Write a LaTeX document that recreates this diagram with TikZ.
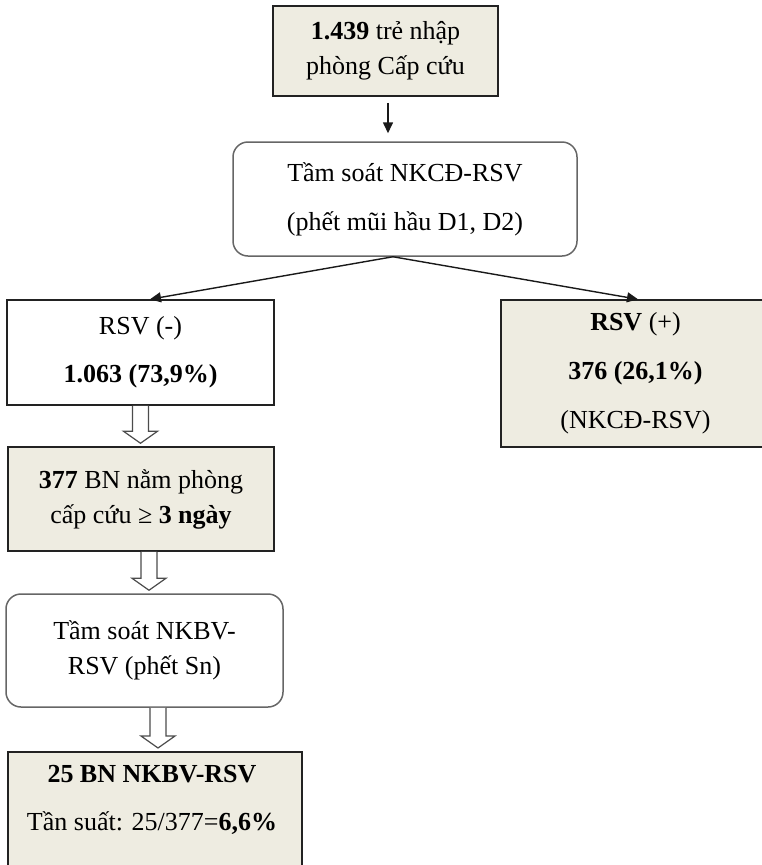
\documentclass[tikz,border=0pt]{standalone}
\usepackage{fontspec}
\setmainfont{Liberation Serif}
\usepackage{tikz}
\usetikzlibrary{arrows.meta, calc}
\definecolor{beige}{HTML}{EEECE1}
\definecolor{frame}{HTML}{222222}

% hollow block arrow from the bottom of #1 to the top of #2, at x = #3
\newcommand{\fatarrow}[3]{%
  \draw[fat] let \p1=(#1.south), \p2=(#2.north) in
    ({(#3-8)*1pt},\y1) -- ({(#3-8)*1pt},\y2+15pt) -- ({(#3-17)*1pt},\y2+15pt)
    -- ({#3*1pt},\y2+3pt) -- ({(#3+17)*1pt},\y2+15pt) -- ({(#3+8)*1pt},\y2+15pt)
    -- ({(#3+8)*1pt},\y1);}

\begin{document}
\begin{tikzpicture}[
  x=1pt, y=-1pt,
  every node/.style={font=\fontsize{26}{35}\selectfont, align=center, inner sep=0pt},
  box/.style={rectangle, draw=frame, line width=1.5pt, fill=beige},
  plainbox/.style={rectangle, draw=frame, line width=1.5pt, fill=white},
  roundbox/.style={rectangle, draw=black!60, line width=1.5pt, fill=white, rounded corners=15pt},
  arrow/.style={-{Triangle[length=11pt, width=10pt]}, line width=1.6pt, black!90},
  fat/.style={draw=black!70, line width=1.2pt, fill=white, line join=miter}
]
  \useasboundingbox (0,0) rectangle (762,865);

  \node[box, minimum width=225pt, minimum height=90pt] (admit) at (385.5,51)
    {\textbf{1.439} trẻ nhập\\phòng Cấp cứu};
  \node[roundbox, minimum width=344pt, minimum height=114pt] (screen) at (405,199)
    {Tầm soát NKCĐ-RSV\\[14pt](phết mũi hầu D1, D2)};

  \node[plainbox, minimum width=267pt, minimum height=105pt] (neg) at (140.5,352.5)
    {RSV (-)\\[13pt]\textbf{1.063 (73,9\%)}};
  \node[box, minimum width=269pt, minimum height=147pt] (pos) at (635.5,373.5)
    {\textbf{RSV} (+)\\[14pt]\textbf{376 (26,1\%)}\\[14pt](NKCĐ-RSV)};

  \node[box, minimum width=266pt, minimum height=104pt] (stay) at (141,499)
    {\textbf{377} BN nằm phòng\\cấp cứu ≥ \textbf{3 ngày}};
  \node[roundbox, minimum width=277pt, minimum height=113pt] (nkbv) at (144.5,650.5)
    {Tầm soát NKBV-\\RSV (phết Sn)};

  \node[box, minimum width=294pt, minimum height=130pt, anchor=north] (result) at (155,751) {};
  \node (resulttext) at (152,800)
    {\textbf{25 BN NKBV-RSV}\\[13pt]Tần suất: 25/377=\textbf{6,6\%}};

  \coordinate (split) at ([xshift=-12pt]screen.south);

  \draw[arrow, shorten <=6pt, shorten >=8pt] ([xshift=2.5pt]admit.south) -- ([xshift=2.5pt]admit.south |- screen.north);
  \draw[arrow, line width=1.4pt] (split) -- ([xshift=9.5pt]neg.north);
  \draw[arrow, line width=1.4pt] (split) -- ([xshift=2.5pt]pos.north);

  \fatarrow{neg}{stay}{140.5}
  \fatarrow{stay}{nkbv}{149}
  \fatarrow{nkbv}{result}{158}
\end{tikzpicture}
\end{document}
